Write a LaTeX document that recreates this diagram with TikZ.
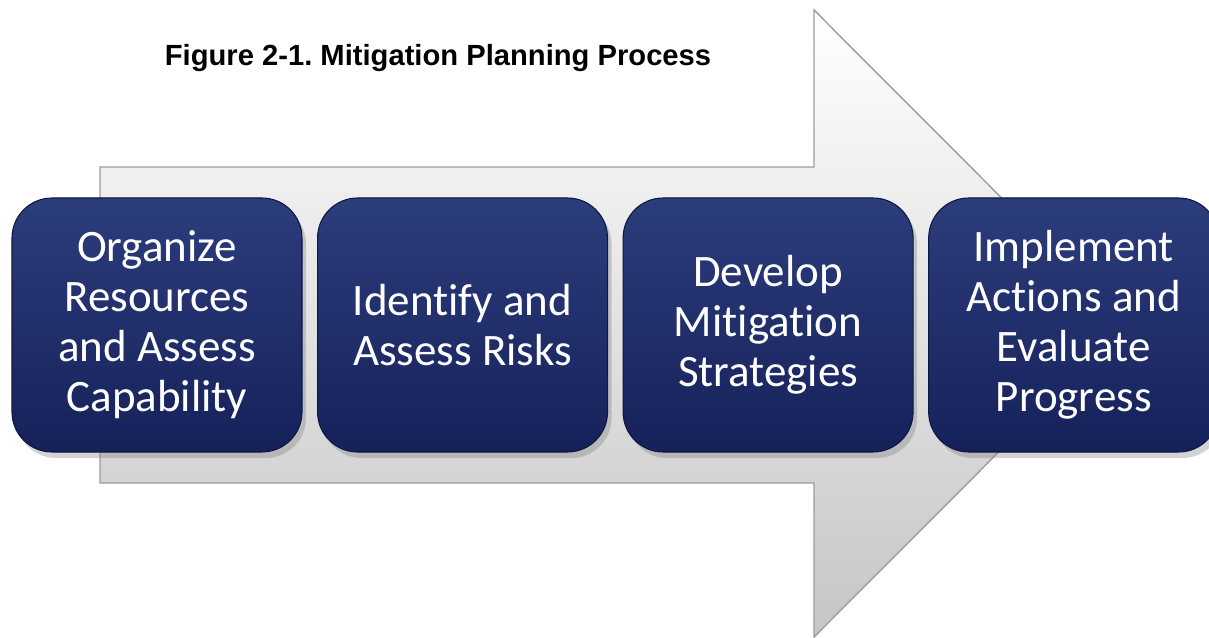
\documentclass[tikz,border=0pt]{standalone}
\usepackage{fontspec}
\setmainfont{Carlito}[Ligatures={NoCommon}]
\newfontfamily\titlefont{Liberation Sans}
\usetikzlibrary{positioning, shadows}
\definecolor{navytop}{HTML}{2C3D7C}
\definecolor{navybot}{HTML}{16215A}
\definecolor{navyedge}{HTML}{0E1740}
\definecolor{arrowedge}{HTML}{9C9C9C}
\tikzstyle{stepbox} = [rectangle, rounded corners=4mm, minimum width=29mm, minimum height=25.4mm,
    top color=navytop, bottom color=navybot, draw=navyedge, line width=0.3pt,
    drop shadow={opacity=0.35, shadow xshift=0.4mm, shadow yshift=-0.6mm},
    text=white, align=center, font=\fontsize{12.8pt}{14.2pt}\selectfont]
\tikzset{
    bigarrow/.style={top color=white, bottom color=gray!45, draw=arrowedge, line width=0.4pt}
}

\begin{document}
\begin{tikzpicture}[x=0.1mm, y=-0.1mm, node distance=1.45mm]
        \useasboundingbox (0,0) rectangle (1209,638);

        % background arrow
        \path[bigarrow] (100,167) -- (814,167) -- (814,10) -- (1127,323.5) -- (814,637)
            -- (814,483) -- (100,483) -- cycle;

        \node at (438,58) [font=\titlefont\bfseries\fontsize{8.3pt}{10pt}\selectfont] (title) {Figure 2-1.\ Mitigation Planning Process};

        \node at (157,325) [stepbox] (OR) {Organize\\Resources\\and Assess\\Capability};
        \node [stepbox, right=of OR] (IR) {Identify and\\Assess Risks};
        \node [stepbox, right=of IR] (DM) {Develop\\Mitigation\\Strategies};
        \node [stepbox, right=of DM] (IA) {Implement\\Actions and\\Evaluate\\Progress};

    \end{tikzpicture}
\end{document}
